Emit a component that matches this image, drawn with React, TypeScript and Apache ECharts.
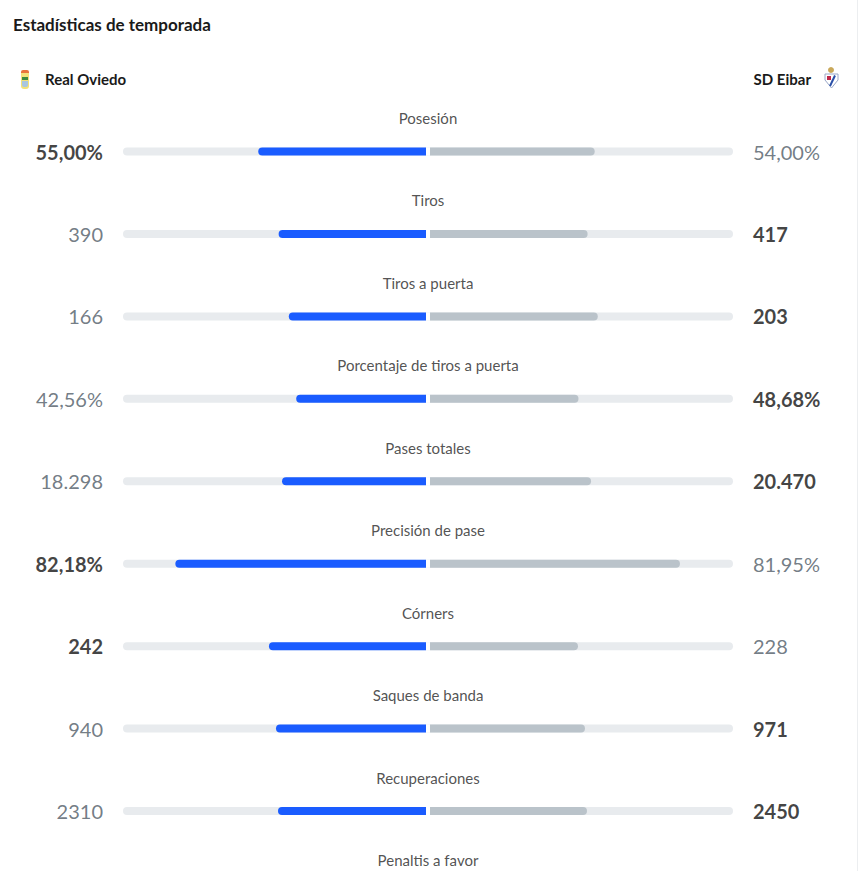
import React, { useEffect, useRef } from "react";
import * as echarts from "echarts";

const categories = [
  "Posesión",
  "Tiros",
  "Tiros a puerta",
  "Porcentaje de tiros a puerta",
  "Pases totales",
  "Precisión de pase",
  "Córners",
  "Saques de banda",
  "Recuperaciones",
  "Penaltis a favor",
];
const oviedoValues: (number | null)[] = [55.0, 390, 166, 42.56, 18298, 82.18, 242, 940, 2310, null];
const eibarValues: (number | null)[] = [54.0, 417, 203, 48.68, 20470, 81.95, 228, 971, 2450, null];
const isPercent = [true, false, false, true, false, true, false, false, false, false];
const homeTeam = "Real Oviedo";
const awayTeam = "SD Eibar";
const title = "Estadísticas de temporada";

const FONT = "Lato, 'Open Sans', sans-serif";
const GAP = 2 / 305;

function fmt(v: number | null, pct: boolean): string {
  if (v == null) return "";
  if (pct) return v.toFixed(2).replace(".", ",") + "%";
  const s = Math.round(v).toString();
  if (s.length <= 4) return s;
  return s.replace(/\B(?=(\d{3})+(?!\d))/g, ".");
}

function share(a: number | null, b: number | null, pct: boolean): number | null {
  if (a == null || b == null) return null;
  if (pct) return a / 100;
  return a / (a + b);
}

export default function App() {
  const ref = useRef<HTMLDivElement>(null);
  useEffect(() => {
    if (!ref.current) return;
    const chart = echarts.init(ref.current, undefined, { renderer: "svg" });
    const leftShare = categories.map((_, i) => share(oviedoValues[i], eibarValues[i], isPercent[i]));
    const rightShare = categories.map((_, i) => share(eibarValues[i], oviedoValues[i], isPercent[i]));
    const valueLabel = (mine: number | null, other: number | null, pct: boolean) => {
      const win = mine != null && other != null && mine > other;
      return {
        formatter: fmt(mine, pct),
        color: win ? "#111111" : "#4f5b66",
        fontWeight: win ? 700 : 400,
      };
    };
    const barCommon = { type: "bar", barWidth: 8, barGap: "-100%", silent: true };
    chart.setOption({
      animation: false,
      backgroundColor: "#ffffff",
      grid: { left: 123, width: 610, top: 110.3, height: 824.4 },
      xAxis: { type: "value", min: -1, max: 1, show: false },
      yAxis: { type: "category", data: categories, inverse: true, show: false },
      series: [
        { ...barCommon, name: "trackL", data: categories.map(() => -1), itemStyle: { color: "#e8ebee", borderRadius: [4, 0, 0, 4] } },
        { ...barCommon, name: "trackR", data: categories.map(() => 1), itemStyle: { color: "#e8ebee", borderRadius: [0, 4, 4, 0] } },
        { ...barCommon, name: "gapL", stack: "L", data: categories.map(() => -GAP), itemStyle: { color: "#ffffff" } },
        { ...barCommon, name: homeTeam, stack: "L", data: leftShare.map((s) => (s == null ? null : -s)), itemStyle: { color: "#1a5cff", borderRadius: [4, 0, 0, 4] } },
        { ...barCommon, name: "gapR", stack: "R", data: categories.map(() => GAP), itemStyle: { color: "#ffffff" } },
        { ...barCommon, name: awayTeam, stack: "R", data: rightShare, itemStyle: { color: "#bac3ca", borderRadius: [0, 4, 4, 0] } },
        {
          type: "scatter",
          name: "labels",
          symbolSize: 0,
          silent: true,
          data: categories.map((c) => [0, c]),
          label: {
            show: true,
            position: "inside",
            offset: [0, -33.5],
            formatter: (p: any) => categories[p.dataIndex],
            fontFamily: FONT,
            fontSize: 15,
            color: "#262626",
          },
        },
        {
          type: "scatter",
          name: "homeValues",
          symbolSize: 0,
          silent: true,
          data: categories.map((c, i) => ({ value: [-1, c], label: valueLabel(oviedoValues[i], eibarValues[i], isPercent[i]) })),
          label: { show: true, position: "left", distance: 20, fontFamily: FONT, fontSize: 20 },
        },
        {
          type: "scatter",
          name: "awayValues",
          symbolSize: 0,
          silent: true,
          data: categories.map((c, i) => ({ value: [1, c], label: valueLabel(eibarValues[i], oviedoValues[i], isPercent[i]) })),
          label: { show: true, position: "right", distance: 20, fontFamily: FONT, fontSize: 20 },
        },
      ],
      graphic: [
        { type: "line", silent: true, shape: { x1: 857.5, y1: 0, x2: 857.5, y2: 960 }, style: { stroke: "#eceef0", lineWidth: 1 } },
        { type: "text", x: 13, y: 24, style: { text: title, font: `700 17px ${FONT}`, fill: "#1a1a1a", textVerticalAlign: "middle" } },
        { type: "text", x: 45, y: 79, style: { text: homeTeam, font: `700 15px ${FONT}`, fill: "#1a1a1a", textVerticalAlign: "middle" } },
        { type: "text", x: 811, y: 79, style: { text: awayTeam, font: `700 15px ${FONT}`, fill: "#1a1a1a", textAlign: "right", textVerticalAlign: "middle" } },
        // Real Oviedo crest
        { type: "rect", shape: { x: 21, y: 70, width: 8, height: 3, r: [2, 2, 0, 0] }, style: { fill: "#e8743b" } },
        { type: "rect", shape: { x: 21, y: 73, width: 8, height: 16, r: [0, 0, 3, 3] }, style: { fill: "#f3e27a" } },
        { type: "rect", shape: { x: 22, y: 77, width: 6, height: 3 }, style: { fill: "#3d8a3f" } },
        { type: "rect", shape: { x: 22, y: 81, width: 6, height: 6, r: [0, 0, 2, 2] }, style: { fill: "#a9c6e0" } },
        // SD Eibar crest
        { type: "circle", shape: { cx: 831, cy: 70, r: 3 }, style: { fill: "#c9a85a" } },
        { type: "polygon", shape: { points: [[825, 74], [838, 74], [838, 80], [831.5, 88], [825, 80]] }, style: { fill: "#ffffff", stroke: "#9aa8c8", lineWidth: 1 } },
        { type: "rect", shape: { x: 827, y: 76, width: 4, height: 4 }, style: { fill: "#c0284a" } },
        { type: "line", shape: { x1: 835, y1: 75.5, x2: 830, y2: 86 }, style: { stroke: "#2a4fa8", lineWidth: 2 } },
      ],
    });
    return () => chart.dispose();
  }, []);
  return (
    <div
      ref={ref}
      style={{ position: "fixed", left: 0, top: 0, width: 862, height: 960, background: "#ffffff" }}
    />
  );
}
